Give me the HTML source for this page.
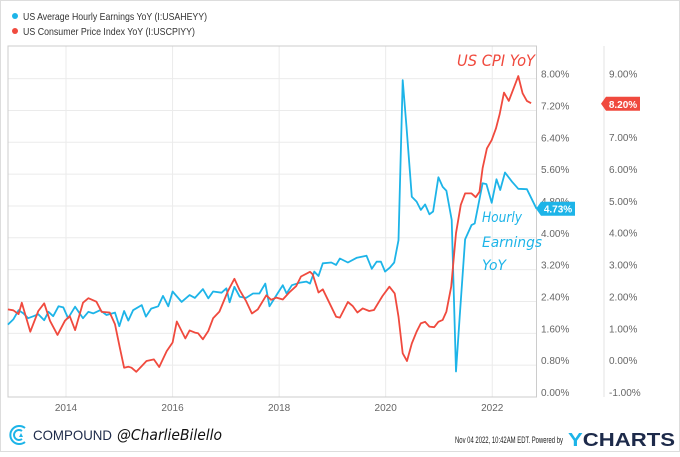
<!DOCTYPE html>
<html><head><meta charset="utf-8"><style>
html,body{margin:0;padding:0;background:#fff;}
body{width:680px;height:452px;overflow:hidden;font-family:"Liberation Sans",sans-serif;}
</style></head><body>
<svg id="chart" width="680" height="452" xmlns="http://www.w3.org/2000/svg">
<rect x="0.5" y="0.5" width="679" height="451" fill="#fff" stroke="#ddd"/>
<g>
 <circle cx="15" cy="16" r="3" fill="#1db4e8"/>
 <text x="23" y="20" font-size="10.5" fill="#333" textLength="184" lengthAdjust="spacingAndGlyphs">US Average Hourly Earnings YoY (I:USAHEYY)</text>
 <circle cx="15" cy="31" r="3" fill="#f04a3e"/>
 <text x="23" y="35" font-size="10.5" fill="#333" textLength="172" lengthAdjust="spacingAndGlyphs">US Consumer Price Index YoY (I:USCPIYY)</text>
</g>
<g id="grid"></g>
<rect x="8" y="46" width="528.5" height="351" fill="none" stroke="#ccc"/>
<line x1="604" y1="46" x2="604" y2="397" stroke="#e3e3e3"/>
<g id="axes"></g>
<g id="series"></g>
<text x="457" y="66" font-size="16" fill="#f04a3e" font-style="italic" font-family="DejaVu Sans, sans-serif" textLength="78" lengthAdjust="spacingAndGlyphs">US CPI YoY</text>
<g font-size="14" fill="#1db4e8" font-style="italic" font-family="DejaVu Sans, sans-serif">
 <text x="482" y="222" textLength="40" lengthAdjust="spacingAndGlyphs">Hourly</text><text x="482" y="247" textLength="60" lengthAdjust="spacingAndGlyphs">Earnings</text><text x="482" y="270" textLength="24" lengthAdjust="spacingAndGlyphs">YoY</text>
</g>
<g id="tags"></g>
<g>
 <g fill="none" stroke="#1db4e8" stroke-width="2">
  <path d="M25 428 A9 9 0 1 0 25 442"/><path d="M22 431 A5 5 0 1 0 22 439"/>
  <path d="M19 437 L21 433 L23 437 Z" fill="#1db4e8" stroke="none"/>
 </g>
 <text x="33" y="440" font-size="14" fill="#1d2a4a" textLength="79" lengthAdjust="spacingAndGlyphs">COMPOUND</text>
 <text x="117" y="440" font-size="15" fill="#111" font-style="italic" font-family="DejaVu Sans, sans-serif" textLength="105" lengthAdjust="spacingAndGlyphs">@CharlieBilello</text>
 <text x="455" y="443" font-size="9" fill="#222" textLength="108" lengthAdjust="spacingAndGlyphs">Nov 04 2022, 10:42AM EDT.  Powered by</text>
 <text x="568" y="446" font-size="18" font-weight="bold" fill="#1d2a4a" textLength="107" lengthAdjust="spacingAndGlyphs"><tspan fill="#1db4e8">Y</tspan>CHARTS</text>
</g>
</svg>
<script>
const NS="http://www.w3.org/2000/svg";
const earnYears=[2012.91,2013.01,2013.11,2013.20,2013.29,2013.39,2013.48,2013.59,2013.67,2013.76,2013.86,2013.95,2014.04,2014.17,2014.32,2014.42,2014.51,2014.64,2014.76,2014.92,2015.00,2015.09,2015.17,2015.26,2015.42,2015.50,2015.60,2015.73,2015.82,2015.92,2016.00,2016.17,2016.32,2016.42,2016.57,2016.67,2016.76,2016.92,2017.01,2017.07,2017.16,2017.26,2017.38,2017.51,2017.63,2017.74,2017.82,2017.95,2018.07,2018.14,2018.24,2018.38,2018.51,2018.58,2018.66,2018.74,2018.82,2018.98,2019.07,2019.14,2019.29,2019.46,2019.64,2019.74,2019.83,2019.91,2019.99,2020.08,2020.16,2020.24,2020.32,2020.39,2020.49,2020.58,2020.66,2020.74,2020.82,2020.89,2020.99,2021.07,2021.14,2021.24,2021.32,2021.39,2021.49,2021.61,2021.67,2021.82,2021.89,2021.99,2022.08,2022.15,2022.24,2022.37,2022.49,2022.65,2022.83];
const earnValues=[1.82,1.95,2.18,2.10,1.98,2.03,2.08,1.93,2.14,2.03,2.28,2.25,1.98,2.27,1.98,2.14,2.10,2.18,2.06,2.12,1.78,2.16,1.92,2.18,2.31,2.02,2.22,2.28,2.54,2.28,2.65,2.39,2.56,2.49,2.71,2.48,2.65,2.62,2.73,2.38,2.77,2.52,2.49,2.60,2.60,2.85,2.28,2.56,2.81,2.60,2.81,2.87,2.90,2.85,3.15,3.04,3.36,3.38,3.32,3.48,3.38,3.50,3.55,3.22,3.40,3.40,3.15,3.25,3.38,3.94,7.96,6.79,5.03,4.91,4.70,4.84,4.59,4.66,5.52,5.28,5.18,4.45,0.64,2.02,3.96,4.32,4.36,5.37,5.35,4.88,5.47,5.20,5.64,5.41,5.23,5.22,4.73];
const cpiYears=[2012.91,2013.01,2013.11,2013.17,2013.33,2013.48,2013.59,2013.70,2013.84,2013.98,2014.07,2014.17,2014.32,2014.42,2014.57,2014.67,2014.82,2014.92,2015.01,2015.09,2015.17,2015.23,2015.32,2015.42,2015.51,2015.65,2015.75,2015.89,2016.00,2016.08,2016.17,2016.24,2016.32,2016.42,2016.48,2016.57,2016.67,2016.76,2016.88,2017.04,2017.16,2017.26,2017.38,2017.49,2017.60,2017.76,2017.85,2017.95,2018.07,2018.19,2018.32,2018.41,2018.58,2018.63,2018.74,2018.82,2018.91,2019.07,2019.14,2019.29,2019.38,2019.47,2019.57,2019.69,2019.78,2019.94,2020.07,2020.17,2020.24,2020.32,2020.40,2020.49,2020.58,2020.66,2020.74,2020.82,2020.91,2020.99,2021.07,2021.14,2021.23,2021.32,2021.41,2021.49,2021.61,2021.69,2021.76,2021.82,2021.90,2021.99,2022.07,2022.14,2022.22,2022.31,2022.49,2022.57,2022.65,2022.73];
const cpiValues=[1.75,1.72,1.60,1.96,1.05,1.70,1.94,1.39,0.95,1.39,1.54,1.10,1.96,2.10,1.99,1.67,1.65,1.28,0.55,-0.08,-0.05,-0.08,-0.21,-0.03,0.13,0.18,-0.06,0.44,0.71,1.37,1.07,0.84,1.09,1.02,1.00,0.81,1.07,1.47,1.68,2.33,2.71,2.35,2.01,1.62,1.75,2.19,2.05,2.12,2.06,2.28,2.48,2.78,2.93,2.85,2.28,2.38,2.07,1.52,1.49,1.98,1.86,1.65,1.78,1.70,1.73,2.17,2.46,2.25,1.52,0.37,0.13,0.68,1.05,1.31,1.36,1.21,1.19,1.36,1.42,1.68,2.46,4.14,5.03,5.39,5.39,5.27,5.44,6.18,6.80,7.06,7.43,7.88,8.55,8.29,9.07,8.53,8.29,8.22];
const leftTicks=["0.00%","0.80%","1.60%","2.40%","3.20%","4.00%","4.80%","5.60%","6.40%","7.20%","8.00%"];
const leftTickVals=[0,0.8,1.6,2.4,3.2,4.0,4.8,5.6,6.4,7.2,8.0];
const rightTicks=["-1.00%","0.00%","1.00%","2.00%","3.00%","4.00%","5.00%","6.00%","7.00%","8.00%","9.00%"];
const rightTickVals=[-1,0,1,2,3,4,5,6,7,8,9];
const xTicks=[2014,2016,2018,2020,2022];
const lastEarn="4.73%", lastCpi="8.20%";

const X=y=>66+(y-2014)*53.28;
const YL=v=>397-v*39.8;
const YR=v=>397-(v+1)*31.87;
const grid=document.getElementById('grid'),axes=document.getElementById('axes'),series=document.getElementById('series'),tags=document.getElementById('tags');
function mk(tag,attrs,parent,txt){const e=document.createElementNS(NS,tag);for(const k in attrs)e.setAttribute(k,attrs[k]);if(txt!==undefined)e.textContent=txt;parent.appendChild(e);return e;}
leftTickVals.forEach((v,i)=>{
 if(v>0){const l=mk('line',{x1:8,x2:536.5,y1:YL(v),y2:YL(v),stroke:'#ebebeb'},grid);
 
 }
 const t=mk('text',{x:541,y:YL(v)-1,'font-size':10,fill:'#666'},axes,leftTicks[i]);
 
 
});
rightTickVals.forEach((v,i)=>{
 const t=mk('text',{x:609,y:YR(v)-1,'font-size':10,fill:'#666'},axes,rightTicks[i]);
 
 
});
xTicks.forEach(y=>{
 const l=mk('line',{x1:X(y),x2:X(y),y1:46,y2:397,stroke:'#ebebeb'},grid);
 
 
 const t=mk('text',{x:X(y),y:411,'font-size':10,fill:'#666','text-anchor':'middle'},axes,String(y));
 
 
});
function line(xs,vs,yf,col,name){
 const d=xs.map((x,i)=>(i?'L':'M')+X(x).toFixed(1)+' '+yf(vs[i]).toFixed(1)).join(' ');
 const p=mk('path',{d:d,fill:'none',stroke:col,'stroke-width':1.8,'stroke-linejoin':'round'},series);
 
 
}
line(earnYears,earnValues,YL,'#1db4e8','earnings-line');
line(cpiYears,cpiValues,YR,'#f04a3e','cpi-line');
function tag(x,y,w,col,txt,name){
 const g=mk('g',{},tags);
 
 
 mk('path',{d:`M${x-5} ${y} L${x} ${y-7} L${x+w} ${y-7} L${x+w} ${y+7} L${x} ${y+7} Z`,fill:col},g);
 mk('text',{x:x+w/2,y:y+4,'font-size':10,'font-weight':'bold',fill:'#fff','text-anchor':'middle'},g,txt);
}
tag(541,YL(earnValues[earnValues.length-1]),34,'#1db4e8',lastEarn,'earnings-value-tag');
tag(606,YR(8.2),34,'#f04a3e',lastCpi,'cpi-value-tag');
</script>
</body></html>
